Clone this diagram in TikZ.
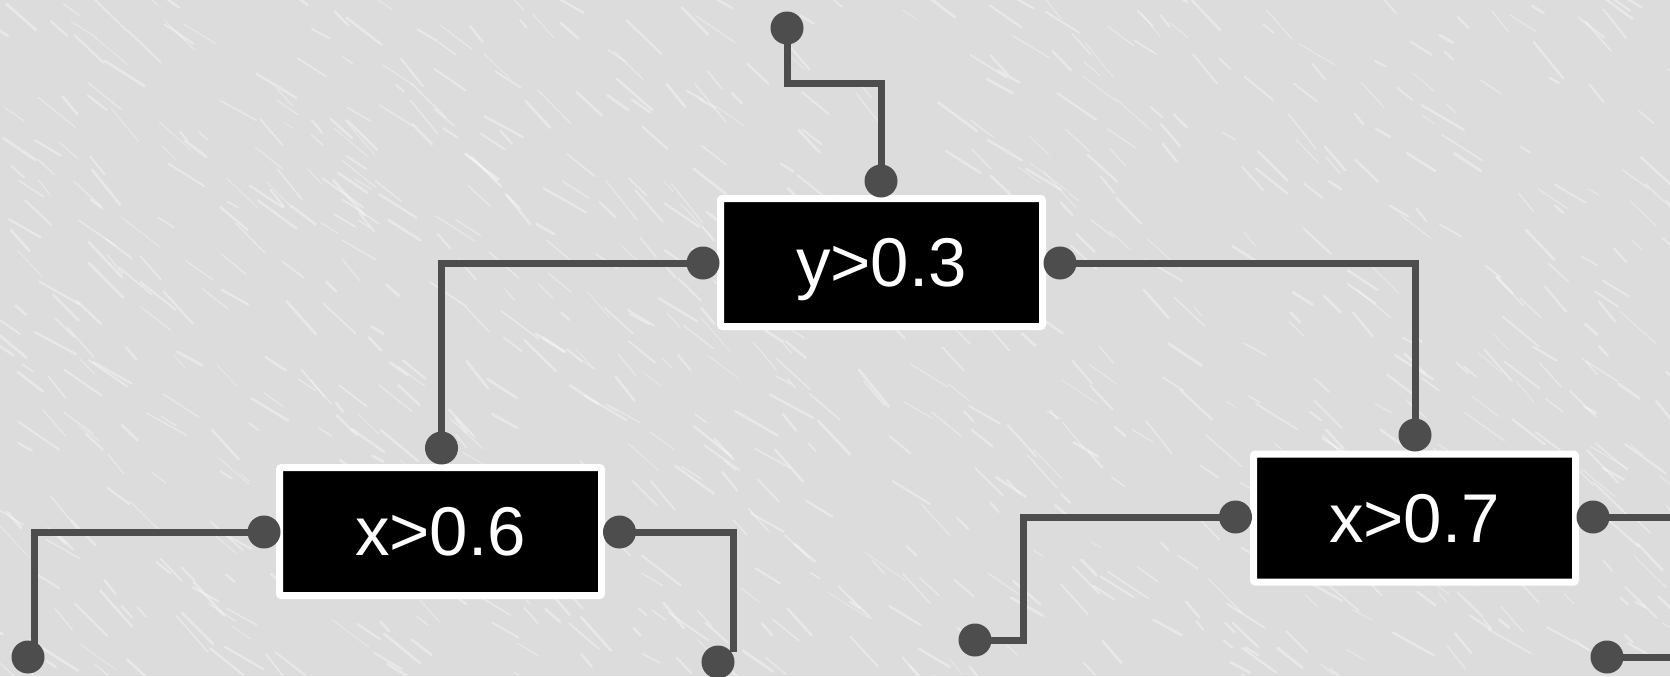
\documentclass[tikz,border=0pt]{standalone}
\usepackage{fontspec}
\setmainfont{Liberation Sans}
\definecolor{bg}{HTML}{DCDCDC}
\definecolor{wire}{HTML}{4D4D4D}
\tikzset{
  testbox/.style={fill=black, draw=white, line width=3.5pt, minimum width=161pt, minimum height=64pt,
    inner sep=0pt, text=white, font=\fontsize{34.5}{40}\selectfont, text depth=0pt, rounded corners=1pt},
  pin/.style={circle, fill=wire, minimum size=16.5pt, inner sep=0pt},
  wirestyle/.style={draw=wire, line width=3.5pt},
  vein/.style={white, opacity=0.35, line cap=round},
}
\begin{document}
\begin{tikzpicture}[x=0.5pt,y=-0.5pt]
\useasboundingbox (0,0) rectangle (1670,676);
\clip (0,0) rectangle (1670,676);
\fill[bg] (0,0) rectangle (1670,676);
\pgfmathsetseed{12}
\foreach \i in {1,...,900}{
  \pgfmathsetmacro{\px}{rnd*1700-15}
  \pgfmathsetmacro{\py}{rnd*700-12}
  \pgfmathsetmacro{\len}{10+rnd*40}
  \pgfmathsetmacro{\ang}{28+rnd*24}
  \pgfmathsetmacro{\lw}{0.4+rnd*1.0}
  \draw[vein, line width=\lw pt] (\px,\py) -- ++(\ang:\len);
}
% boxes
\node[testbox] (root) at (881.5,262.5) {y>0.3};
\node[testbox] (left) at (440.5,531.5) {x>0.6};
\node[testbox] (right) at (1414.5,518) {x>0.7};
% pins
\node[pin] (rtop) at (787,28) {};
\node[pin] (rin) at (881,181) {};
\node[pin] (rl) at (703,263) {};
\node[pin] (rr) at (1060,263) {};
\node[pin] (lin) at (441.5,448) {};
\node[pin] (l06) at (264,532) {};
\node[pin] (r06) at (619.5,532) {};
\node[pin] (rin2) at (1415,435) {};
\node[pin] (l07) at (1235.5,517) {};
\node[pin] (r07) at (1593,517) {};
\node[pin] (ll) at (28,657) {};
\node[pin] (lr) at (718,662) {};
\node[pin] (rl07) at (975,640) {};
\node[pin] (rr07) at (1607,657) {};
% coordinates
\coordinate (c1) at (881,83);
\coordinate (cll) at (34,650);
\coordinate (clr) at (733,652);
\coordinate (c2) at (1023,580);
\coordinate (e1) at (1690,517);
\coordinate (e2) at (1690,657);
% wires
\draw[wirestyle] (rtop.center) |- (c1) -- (rin.center);
\draw[wirestyle] (rl.center) -| (lin.center);
\draw[wirestyle] (rr.center) -| (rin2.center);
\draw[wirestyle] (l06.center) -| (cll);
\draw[wirestyle] (r06.center) -| (clr);
\draw[wirestyle] (l07.center) -| (c2) |- (rl07.center);
\draw[wirestyle] (r07.center) -- (e1);
\draw[wirestyle] (rr07.center) -- (e2);
\end{tikzpicture}
\end{document}
